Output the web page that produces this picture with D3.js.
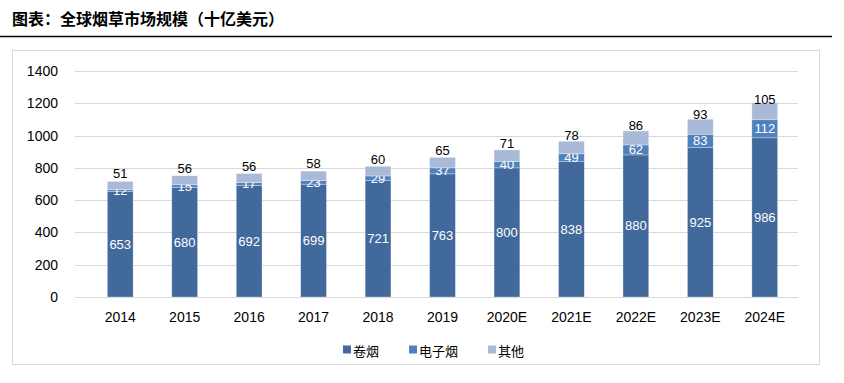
<!DOCTYPE html>
<html>
<head>
<meta charset="utf-8">
<script src="https://cdn.jsdelivr.net/npm/d3@7"></script>
<style>
  body { margin: 0; background: #fff; }
  text { font-family: "Liberation Sans", "Noto Sans CJK SC", sans-serif; }
</style>
</head>
<body>
<script>
let width = 844;
let height = 383;

let years = ["2014", "2015", "2016", "2017", "2018", "2019", "2020E", "2021E", "2022E", "2023E", "2024E"];
let cigarettes = [653, 680, 692, 699, 721, 763, 800, 838, 880, 925, 986];
let ecig = [12, 15, 17, 23, 29, 37, 40, 49, 62, 83, 112];
let others = [51, 56, 56, 58, 60, 65, 71, 78, 86, 93, 105];
let seriesNames = ["卷烟", "电子烟", "其他"];
let colors = ["#41699b", "#4f81bd", "#a9b9d8"];
let yTicks = [0, 200, 400, 600, 800, 1000, 1200, 1400];

let rows = years.map((y, i) => ({ year: y, s0: cigarettes[i], s1: ecig[i], s2: others[i] }));
let stack = d3.stack().keys(["s0", "s1", "s2"])(rows);

let svg = d3.select("body").append("svg")
    .attr("width", width)
    .attr("height", height);

// Title and rule
svg.append("text")
    .attr("x", 12)
    .attr("y", 25)
    .style("font-family", "'Noto Sans CJK SC', sans-serif")
    .style("font-weight", "bold")
    .style("font-size", "16px")
    .attr("fill", "#000")
    .text("图表：全球烟草市场规模（十亿美元）");

svg.append("line")
    .attr("x1", 0).attr("x2", 832)
    .attr("y1", 36.5).attr("y2", 36.5)
    .attr("stroke", "#000")
    .attr("stroke-width", 1.5);

// Chart frame
svg.append("rect")
    .attr("x", 12.5).attr("y", 50.5)
    .attr("width", 807).attr("height", 314)
    .attr("fill", "#fff")
    .attr("stroke", "#d9d9d9");

let x = d3.scaleBand().domain(years).range([88, 797]).paddingInner(0.6).paddingOuter(0.3);
let y = d3.scaleLinear().domain([0, 1400]).range([297, 71]);

// Gridlines
svg.append("g")
    .selectAll("line")
    .data(yTicks)
    .enter()
    .append("line")
    .attr("x1", 75).attr("x2", 798)
    .attr("y1", d => Math.round(y(d)) + 0.5)
    .attr("y2", d => Math.round(y(d)) + 0.5)
    .attr("stroke", "#d9d9d9")
    .attr("stroke-width", 1);

// Y axis labels
let yAxis = svg.append("g")
    .attr("transform", "translate(58,0)")
    .call(d3.axisLeft(y).tickValues(yTicks).tickFormat(d3.format("d")).tickSize(0).tickPadding(0));
yAxis.select(".domain").remove();
yAxis.selectAll("text")
    .style("font-size", "14px")
    .attr("fill", "#000");

// X axis labels
let xAxis = svg.append("g")
    .attr("transform", "translate(0,310)")
    .call(d3.axisBottom(x).tickSize(0).tickPadding(2));
xAxis.select(".domain").remove();
xAxis.selectAll("text")
    .style("font-size", "14px")
    .attr("fill", "#000");

// Bars
let layers = svg.append("g")
    .selectAll("g")
    .data(stack)
    .enter()
    .append("g")
    .attr("fill", (d, i) => colors[i]);

layers.selectAll("rect")
    .data(d => d)
    .enter()
    .append("rect")
    .attr("x", d => x(d.data.year))
    .attr("y", d => y(d[1]))
    .attr("width", x.bandwidth())
    .attr("height", d => y(d[0]) - y(d[1]))
    .attr("stroke", "#ffffff")
    .attr("stroke-opacity", 0.5)
    .attr("stroke-width", 0.6);

// Value labels
layers.each(function (layer, li) {
    d3.select(this).selectAll("text")
        .data(layer)
        .enter()
        .append("text")
        .attr("x", d => x(d.data.year) + x.bandwidth() / 2)
        .attr("y", d => {
            let mid = (y(d[0]) + y(d[1])) / 2;
            return li === 2 ? mid - 12 : mid;
        })
        .attr("text-anchor", "middle")
        .attr("dominant-baseline", "central")
        .style("font-size", "13px")
        .attr("fill", li === 2 ? "#000" : "#fff")
        .text(d => d[1] - d[0]);
});

// Legend
let legend = svg.append("g")
    .selectAll("g")
    .data(seriesNames)
    .enter()
    .append("g")
    .attr("transform", (d, i) => "translate(" + [343, 409, 488][i] + ",350)");

legend.append("rect")
    .attr("x", 0).attr("y", -4.5)
    .attr("width", 8).attr("height", 8)
    .attr("fill", (d, i) => colors[i]);

legend.append("text")
    .attr("x", 10)
    .attr("y", 0)
    .attr("dominant-baseline", "central")
    .style("font-family", "'Noto Sans CJK SC', sans-serif")
    .style("font-size", "13px")
    .attr("fill", "#000")
    .text(d => d);
</script>
</body>
</html>
